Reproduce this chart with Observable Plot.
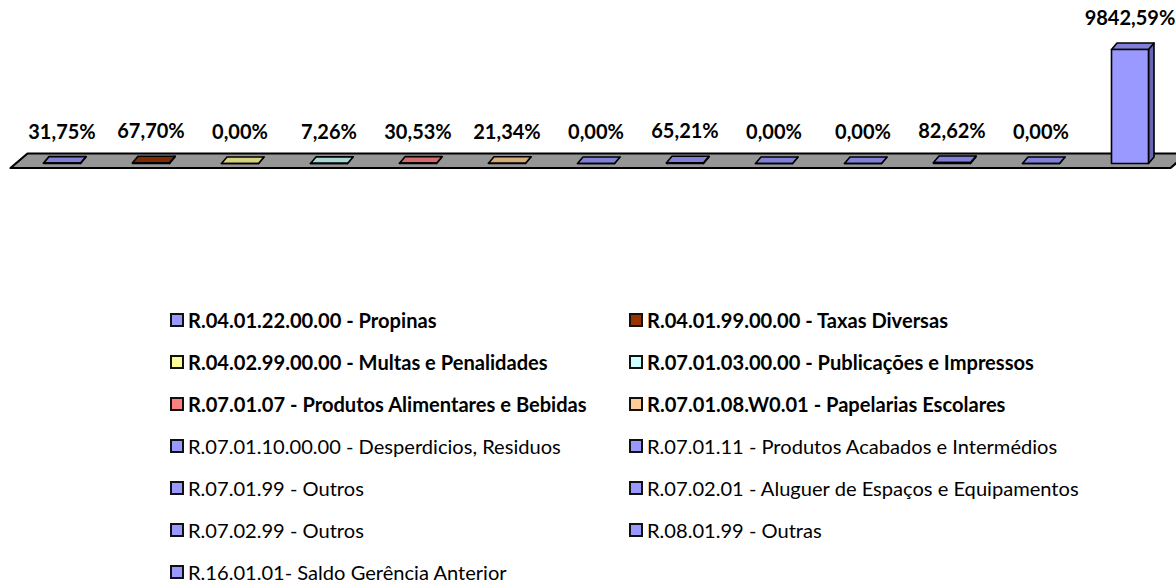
<!DOCTYPE html>
<html>
<head>
<meta charset="utf-8">
<script src="https://cdn.jsdelivr.net/npm/d3@7"></script>
<script src="https://cdn.jsdelivr.net/npm/@observablehq/plot@0.6"></script>
<style>
  html, body { margin: 0; padding: 0; background: #fff; }
  #chart svg { display: block; }
  #legend { font-family: Lato, "Open Sans", sans-serif; font-size: 20.1px; color: #000; position: relative; width: 1176px; }
  .item { display: flex; align-items: center; position: absolute; height: 18px; line-height: 18px; white-space: nowrap; }
  .sw { width: 10px; height: 10px; border: 2px solid #111; margin-right: 4px; flex: none; }
</style>
</head>
<body>
<div id="chart"></div>
<div id="legend"></div>
<script>
// ---- data ----
const categories = [
  "R.04.01.22.00.00 - Propinas",
  "R.04.01.99.00.00 - Taxas Diversas",
  "R.04.02.99.00.00 - Multas e Penalidades",
  "R.07.01.03.00.00 - Publicações e Impressos",
  "R.07.01.07 - Produtos Alimentares e Bebidas",
  "R.07.01.08.W0.01 - Papelarias Escolares",
  "R.07.01.10.00.00 - Desperdicios, Residuos",
  "R.07.01.11 - Produtos Acabados e Intermédios",
  "R.07.01.99 - Outros",
  "R.07.02.01 - Aluguer de Espaços e Equipamentos",
  "R.07.02.99 - Outros",
  "R.08.01.99 - Outras",
  "R.16.01.01- Saldo Gerência Anterior"
];
const values = [31.75, 67.70, 0.00, 7.26, 30.53, 21.34, 0.00, 65.21, 0.00, 0.00, 82.62, 0.00, 9842.59];
const boldLegend = [true, true, true, true, true, true, false, false, false, false, false, false, false];
const legendColors = ["#9999FF", "#993300", "#FFFF99", "#CCFFFF", "#FF8080", "#FFCC99",
  "#9999FF", "#9999FF", "#9999FF", "#9999FF", "#9999FF", "#9999FF", "#9999FF"];
const frontColors = ["#9999FF", "#993300", "#FFFF99", "#CCFFFF", "#FF8080", "#FFCC99",
  "#9999FF", "#9999FF", "#9999FF", "#9999FF", "#9999FF", "#9999FF", "#9999FF"];
const topColors = ["#8080D8", "#7F2A00", "#D6D27F", "#A8D6D6", "#D46A6A", "#D6AA7A",
  "#8080D8", "#8080D8", "#8080D8", "#8080D8", "#8080D8", "#8080D8", "#8080D8"];
const sideColors = ["#6666B3", "#662200", "#AAAA66", "#88AAAA", "#AA5555", "#AA8866",
  "#6666B3", "#6666B3", "#6666B3", "#6666B3", "#6666B3", "#6666B3", "#6666B3"];

// ---- layout (pixels) ----
const W = 1176, H = 298;
const step = 89;          // px between categories
const firstX = 61.5;      // px centre of first bar
const baseY = 163, topY = 49;
const maxV = d3.max(values);
const xu = 1 / step;                    // index units per px
const yu = maxV / (baseY - topY);       // value units per px
const hw = 18.5 * xu, ddx = 5.5 * xu, ddy = 6.5 * yu;

const fmt = v => d3.format(".2f")(v).replace(".", ",") + "%";

// polygons
const polys = [];
values.forEach((v, i) => {
  polys.push({face: "side", id: "s" + i, color: sideColors[i], pts: [[i + hw, 0], [i + hw, v], [i + hw + ddx, v + ddy], [i + hw + ddx, ddy]]});
  polys.push({face: "top", id: "t" + i, color: topColors[i], pts: [[i - hw, v], [i + hw, v], [i + hw + ddx, v + ddy], [i - hw + ddx, v + ddy]]});
  polys.push({face: "front", id: "f" + i, color: frontColors[i], pts: [[i - hw, 0], [i + hw, 0], [i + hw, v], [i - hw, v]]});
});
const pts = polys.flatMap(p => p.pts.map(([x, y]) => ({x, y, id: p.id, color: p.color, face: p.face})));

// floor (in scale units)
const fl = (firstX - 10) * xu, fr = 12 + (1170 - firstX - 12 * step) * xu, fd = 17 * xu;
const fFront = -4.5 * yu, fBack = 10 * yu;
const floor = [
  {x: -fl, y: fFront}, {x: fr, y: fFront}, {x: fr + fd, y: fBack}, {x: -fl + fd, y: fBack}
];

const chart = Plot.plot({
  width: W, height: H,
  marginLeft: firstX, marginRight: W - firstX - 12 * step,
  marginTop: topY, marginBottom: H - baseY,
  x: {domain: [0, 12], axis: null},
  y: {domain: [0, maxV], axis: null},
  color: {type: "identity"},
  style: {background: "transparent"},
  marks: [
    Plot.line(floor, {x: "x", y: "y", curve: "linear-closed", fill: "#969696", stroke: "#000", strokeWidth: 2.2}),
    Plot.line(pts.filter(d => d.face === "side"), {x: "x", y: "y", z: "id", fill: "color", curve: "linear-closed", stroke: "#000", strokeWidth: 1.6, strokeLinejoin: "round"}),
    Plot.line(pts.filter(d => d.face === "top"), {x: "x", y: "y", z: "id", fill: "color", curve: "linear-closed", stroke: "#000", strokeWidth: 1.6, strokeLinejoin: "round"}),
    Plot.line(pts.filter(d => d.face === "front"), {x: "x", y: "y", z: "id", fill: "color", curve: "linear-closed", stroke: "#000", strokeWidth: 1.6, strokeLinejoin: "round"}),
    Plot.text(values, {x: (d, i) => i, y: d => d, text: d => fmt(d), dy: -31, dx: 0,
      fontFamily: "Lato, 'Open Sans', sans-serif", fontWeight: "bold", fontSize: 20, fill: "#000"})
  ]
});
document.getElementById("chart").appendChild(chart);

// legend
const lg = document.getElementById("legend");
const rowH = 42;
lg.style.height = "286px";
categories.forEach((c, i) => {
  const r = Math.floor(i / 2), col = i % 2;
  const it = document.createElement("div");
  it.className = "item";
  it.style.left = (col === 0 ? 170 : 629) + "px";
  it.style.top = (r * rowH + 12.5) + "px";
  const sw = document.createElement("span");
  sw.className = "sw";
  sw.style.background = legendColors[i];
  const tx = document.createElement("span");
  tx.textContent = c;
  tx.style.fontWeight = boldLegend[i] ? "bold" : "normal";
  it.appendChild(sw); it.appendChild(tx);
  lg.appendChild(it);
});
</script>
</body>
</html>
